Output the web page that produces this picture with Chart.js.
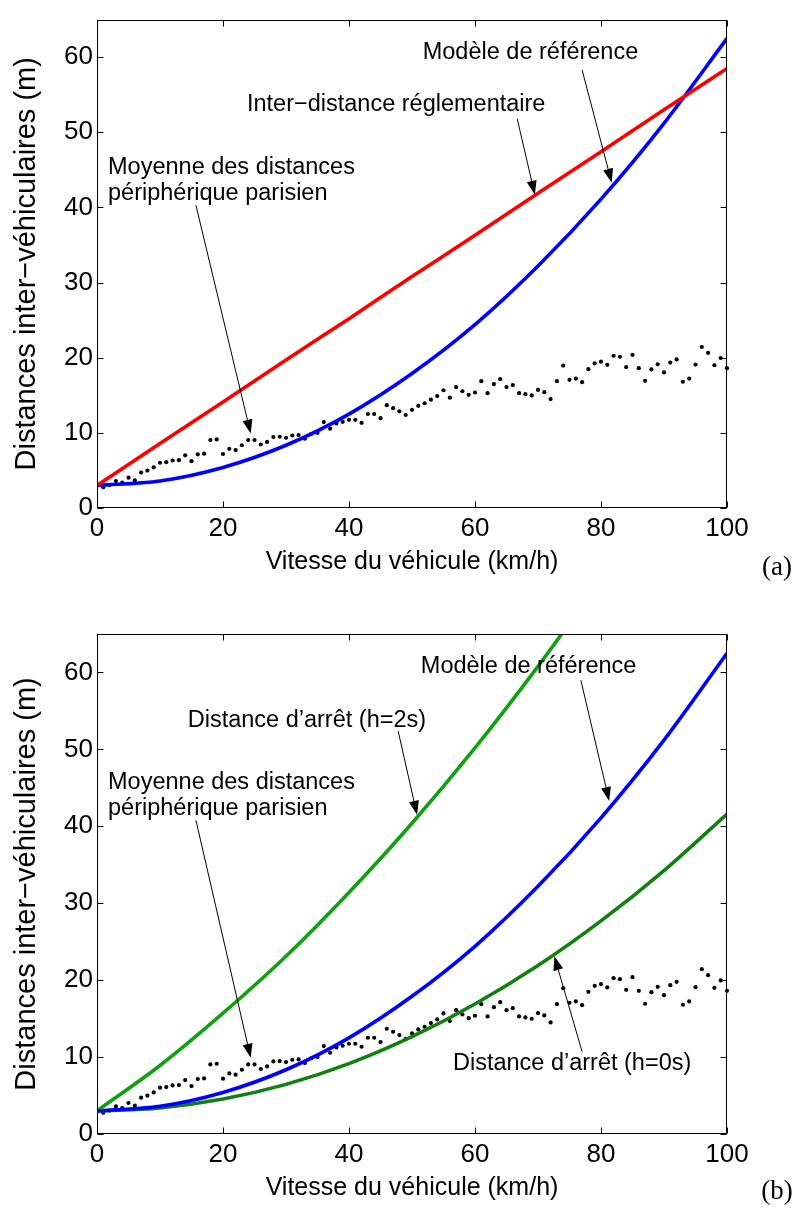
<!DOCTYPE html>
<html>
<head>
<meta charset="utf-8">
<script src="https://cdn.jsdelivr.net/npm/chart.js@4/dist/chart.umd.min.js"></script>
<style>
  body { margin: 0; background: #fff; }
  #wrap { position: relative; width: 797px; height: 1212px; }
  canvas { position: absolute; left: 0; }
</style>
</head>
<body>
<div id="wrap">
  <canvas id="chartA" width="797" height="606" style="top:0"></canvas>
  <canvas id="chartB" width="797" height="606" style="top:606px"></canvas>
</div>
<script>
// Data
const xTicks = [0, 20, 40, 60, 80, 100];
const yTicks = [0, 10, 20, 30, 40, 50, 60];

// curves sampled every 10 km/h
const curveSpeed = [0, 10, 20, 30, 40, 50, 60, 70, 80, 90, 100];
const reglementaire = [3, 8.6, 14.1, 19.7, 25.2, 30.8, 36.3, 41.9, 47.4, 53, 58.5];
const reference = [3, 3.6, 5.4, 8.35, 12.5, 17.9, 24.4, 32.2, 41.1, 51.2, 62.5];
const arret2s = [3, 8.9, 15.7, 23.1, 31.4, 40.4, 50.2, 60.8, 72.1];
const arret0s = [3, 3.4, 4.55, 6.45, 9.15, 12.65, 16.9, 21.9, 27.7, 34.25, 41.6];

// mean measured distances, periphérique parisien, 1..100 km/h
const meanDist = [
  2.77, 3.05, 3.59, 3.38, 4.03, 3.68, 4.72, 4.98, 5.41, 6.02,
  6.10, 6.32, 6.36, 7.01, 6.23, 7.14, 7.23, 9.05, 9.13, 7.19,
  7.88, 7.71, 8.35, 9.05, 9.05, 8.45, 8.79, 9.44, 9.48, 9.35,
  9.65, 9.70, 9.22, 9.85, 10.0, 11.43, 10.56, 11.26, 11.47, 11.73,
  11.73, 11.34, 12.51, 12.51, 11.95, 13.68, 13.29, 12.86, 12.38, 13.07,
  13.6, 13.94, 14.42, 14.89, 15.67, 14.68, 16.10, 15.54, 15.06, 15.37,
  16.88, 15.28, 16.49, 17.14, 16.10, 16.36, 15.28, 15.15, 14.98, 15.71,
  15.41, 14.50, 16.88, 18.96, 17.06, 17.23, 16.75, 18.48, 19.26, 19.48,
  19.05, 20.26, 20.13, 18.74, 20.39, 18.61, 16.93, 18.44, 19.13, 18.05,
  19.35, 19.78, 16.80, 17.23, 19.09, 21.43, 20.65, 19.00, 19.96, 18.61
];
const meanSpeed = meanDist.map((_, i) => i + 1);

const FONT = '"Liberation Sans", Arial, Helvetica, sans-serif';

function pts(xs, ys) {
  return ys.map((y, i) => ({ x: xs[i], y: y }));
}

function curve(data, color) {
  return {
    data: pts(curveSpeed, data),
    showLine: true,
    borderColor: color,
    borderWidth: 3.6,
    pointRadius: 0,
    cubicInterpolationMode: 'monotone'
  };
}

function dots() {
  return {
    data: pts(meanSpeed, meanDist),
    showLine: false,
    pointRadius: 2.1,
    pointBackgroundColor: '#000',
    pointBorderWidth: 0,
    clip: false
  };
}

// frame box with inward ticks on all four sides
const frameTicks = {
  id: 'frameTicks',
  afterDatasetsDraw(chart) {
    const { ctx, chartArea: a, scales: { x, y } } = chart;
    const L = Math.round(a.left) + 0.5, R = Math.round(a.right) - 0.5;
    const T = Math.round(a.top) + 0.5, B = Math.round(a.bottom) - 0.5;
    ctx.save();
    ctx.strokeStyle = '#000';
    ctx.lineWidth = 1;
    ctx.strokeRect(L, T, R - L, B - T);
    ctx.beginPath();
    xTicks.forEach(v => {
      const px = Math.round(x.getPixelForValue(v)) + 0.5;
      ctx.moveTo(px, B); ctx.lineTo(px, B - 6);
      ctx.moveTo(px, T); ctx.lineTo(px, T + 6);
    });
    yTicks.forEach(v => {
      const py = Math.round(y.getPixelForValue(v)) + 0.5;
      ctx.moveTo(L, py); ctx.lineTo(L + 6, py);
      ctx.moveTo(R, py); ctx.lineTo(R - 6, py);
    });
    ctx.stroke();
    ctx.restore();
  }
};

// text annotations with arrows, placed in data coordinates
const notes = {
  id: 'notes',
  afterDraw(chart, args, opts) {
    const { ctx, scales: { x, y } } = chart;
    ctx.save();
    ctx.fillStyle = '#000';
    ctx.strokeStyle = '#000';
    ctx.font = '23.5px ' + FONT;
    ctx.textAlign = 'left';
    ctx.textBaseline = 'middle';
    (opts.items || []).forEach(n => {
      n.lines.forEach(ln => {
        ctx.fillText(ln[2], x.getPixelForValue(ln[0]), y.getPixelForValue(ln[1]));
      });
      const x0 = x.getPixelForValue(n.from[0]), y0 = y.getPixelForValue(n.from[1]);
      const x1 = x.getPixelForValue(n.to[0]), y1 = y.getPixelForValue(n.to[1]);
      const ang = Math.atan2(y1 - y0, x1 - x0);
      const hl = 14, hw = 5;
      const bx = x1 - hl * Math.cos(ang), by = y1 - hl * Math.sin(ang);
      ctx.lineWidth = 1;
      ctx.beginPath();
      ctx.moveTo(x0, y0);
      ctx.lineTo(bx, by);
      ctx.stroke();
      ctx.beginPath();
      ctx.moveTo(x1, y1);
      ctx.lineTo(bx + hw * Math.sin(ang), by - hw * Math.cos(ang));
      ctx.lineTo(bx - hw * Math.sin(ang), by + hw * Math.cos(ang));
      ctx.closePath();
      ctx.fill();
    });
    if (opts.tag) {
      ctx.font = '27px "Liberation Serif", "DejaVu Serif", serif';
      ctx.textAlign = 'center';
      ctx.fillText(opts.tag[0], opts.tag[1], opts.tag[2]);
    }
    ctx.restore();
  }
};

function makeChart(id, datasets, items, tag, padTop, xAxisH, xTitlePad) {
  new Chart(document.getElementById(id), {
    type: 'scatter',
    data: { datasets: datasets },
    options: {
      responsive: false,
      animation: false,
      devicePixelRatio: 1,
      layout: { padding: { top: padTop, right: 70, left: 0, bottom: 0 } },
      plugins: {
        legend: { display: false },
        tooltip: { enabled: false },
        notes: { items: items, tag: tag }
      },
      scales: {
        x: {
          type: 'linear', min: 0, max: 100,
          afterBuildTicks: s => { s.ticks = xTicks.map(v => ({ value: v })); },
          afterFit: s => { s.height = xAxisH; },
          grid: { display: false, drawTicks: false },
          border: { display: false },
          ticks: { color: '#000', font: { family: FONT, size: 26 }, padding: 5, maxRotation: 0, autoSkip: false },
          title: {
            display: true, text: 'Vitesse du véhicule (km/h)', color: '#000',
            font: { family: FONT, size: 25 }, padding: { top: 0, bottom: xTitlePad }
          }
        },
        y: {
          type: 'linear', min: 0, max: 65,
          afterBuildTicks: s => { s.ticks = yTicks.map(v => ({ value: v })); },
          afterFit: s => { s.width = 97; },
          grid: { display: false, drawTicks: false },
          border: { display: false },
          ticks: { color: '#000', font: { family: FONT, size: 26 }, padding: 4 },
          title: {
            display: true, text: 'Distances inter\u2212véhiculaires (m)', color: '#000',
            font: { family: FONT, size: 29 }, padding: { top: 10, bottom: 0 }
          }
        }
      }
    },
    plugins: [frameTicks, notes]
  });
}

// (a) regulatory distance vs reference model
makeChart('chartA',
  [curve(reglementaire, '#ff0000'), curve(reference, '#0000ff'), dots()],
  [
    { lines: [[51.7, 60.6, 'Modèle de référence']], from: [77.0, 58.3], to: [81.7, 43.3] },
    { lines: [[23.8, 53.7, 'Inter\u2212distance réglementaire']], from: [66.7, 51.8], to: [69.5, 41.7] },
    { lines: [[1.75, 45.3, 'Moyenne des distances'], [1.75, 41.9, 'périphérique parisien']],
      from: [15.7, 40.3], to: [24.4, 9.9] }
  ],
  ['(a)', 777, 568], 8, 98, 29);

// (b) stopping distances vs reference model
makeChart('chartB',
  [curve(reference, '#0000ff'), curve(arret0s, '#108010'), curve(arret2s, '#10a010'), dots()],
  [
    { lines: [[51.4, 60.8, 'Modèle de référence']], from: [76.8, 59.0], to: [81.3, 43.3] },
    { lines: [[14.4, 53.8, 'Distance d\u2019arrêt (h=2s)']], from: [47.8, 52.4], to: [50.8, 41.5] },
    { lines: [[1.75, 45.7, 'Moyenne des distances'], [1.75, 42.3, 'périphérique parisien']],
      from: [15.7, 40.8], to: [24.4, 9.9] },
    { lines: [[56.5, 9.1, 'Distance d\u2019arrêt (h=0s)']], from: [77.0, 10.7], to: [72.6, 23.1] }
  ],
  ['(b)', 777, 586], 28, 78, 9);
</script>
</body>
</html>
